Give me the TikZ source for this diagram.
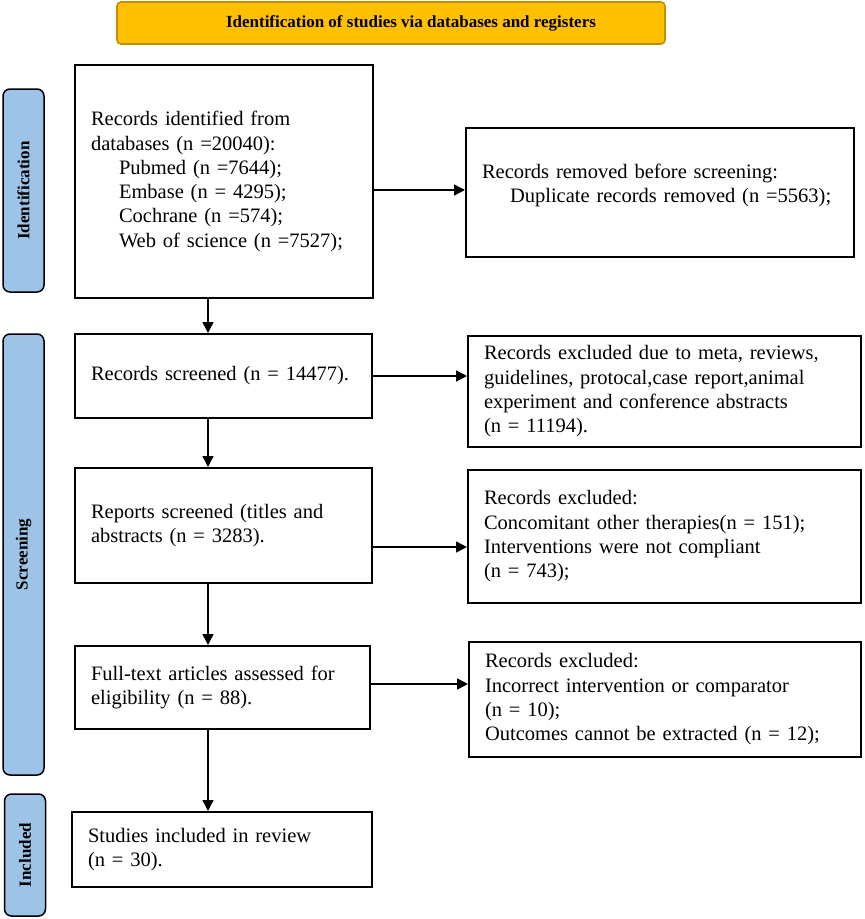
\documentclass[tikz,border=0pt]{standalone}
\usepackage{fontspec}
\setmainfont{Liberation Serif}
\usetikzlibrary{arrows.meta}
\definecolor{headfill}{HTML}{FFC000}
\definecolor{headline}{HTML}{BF9000}
\definecolor{phasefill}{HTML}{9DC3E6}
\tikzset{
  box/.style={draw, line width=2pt, align=left, inner xsep=16pt, inner ysep=0pt,
    font=\fontsize{20.5}{24.3}\selectfont},
  phase/.style={draw, line width=1.5pt, fill=phasefill, rounded corners=7pt, minimum width=41pt,
    inner sep=0pt, font=\fontsize{17}{20}\selectfont\bfseries},
  arr/.style={line width=1.5pt, -{Triangle[length=11pt,width=11pt]}}
}
\begin{document}
\begin{tikzpicture}[x=1pt,y=-1pt]
			%%%%% START %%%%%
			\useasboundingbox (0,0) rectangle (865,919);
			
			\node[draw=headline, line width=1.6pt, fill=headfill, rounded corners=4pt, minimum width=548pt, minimum height=42pt,
			  font=\fontsize{17}{20}\selectfont\bfseries] (head) at (391,23) {\hspace*{40pt}Identification of studies via databases and registers};
			
			\node[phase, minimum height=203pt] (pIdent) at (23.5,190.5) {\rotatebox{90}{Identification}};
			\node[phase, minimum height=441pt] (pScreen) at (23.5,554.5) {\rotatebox{90}{Screening}};
			\node[phase, minimum height=122pt] (pIncl) at (25,855) {\rotatebox{90}{Included}};
			
			\node[box, text width=266pt, minimum height=233pt] (ident) at (224,181.5) {Records identified from\\
			  databases (n =20040):\\
			  \hspace*{28pt}Pubmed (n =7644);\\
			  \hspace*{28pt}Embase (n = 4295);\\
			  \hspace*{28pt}Cochrane (n =574);\\
			  \hspace*{28pt}Web of science (n =7527);};
			\node[box, text width=356pt, minimum height=129pt] (dup) at (660,192.5) {Records removed before screening:\\
			  \hspace*{28pt}Duplicate records removed (n =5563);\\[-6pt]\mbox{}};
			
			\node[box, text width=265pt, minimum height=84pt] (scr) at (223.5,376) {Records screened (n = 14477).};
			\node[box, text width=361pt, minimum height=111pt] (exMeta) at (664.5,391.5) {Records excluded due to meta, reviews,\\
			  guidelines, protocal,case report,animal\\
			  experiment and conference abstracts\\
			  (n = 11194).};
			
			\node[box, text width=265pt, minimum height=115pt] (rep) at (223.5,525.5) {Reports screened (titles and\\
			  abstracts (n = 3283).};
			\node[box, text width=361pt, minimum height=133pt] (exTher) at (664.5,536.5) {Records excluded:\\
			  Concomitant other therapies(n = 151);\\
			  Interventions were not compliant\\
			  (n = 743);};
			
			\node[box, text width=263pt, minimum height=83pt] (full) at (222.5,687.5) {Full-text articles assessed for\\
			  eligibility (n = 88).};
			\node[box, text width=360pt, minimum height=115pt] (exInt) at (665,699.5) {Records excluded:\\
			  Incorrect intervention or comparator\\
			  (n = 10);\\
			  Outcomes cannot be extracted (n = 12);};
			
			\node[box, text width=268pt, minimum height=75pt] (incl) at (222,849.5) {Studies included in review\\
			  (n = 30).};
			
			%% connectors
			\coordinate (ax) at (208,0);
			\draw[arr] (ident.east |- 0,190) -- (dup.west |- 0,190);
			\draw[arr] (ident.south -| ax) -- (scr.north -| ax);
			\draw[arr] (scr.east) -- (scr.east -| exMeta.west);
			\draw[arr] (scr.south -| ax) -- (rep.north -| ax);
			\draw[arr] (rep.east |- 0,547) -- (exTher.west |- 0,547);
			\draw[arr] (rep.south -| ax) -- (full.north -| ax);
			\draw[arr] (full.east |- 0,684) -- (exInt.west |- 0,684);
			\draw[arr] (full.south -| ax) -- (incl.north -| ax);
			
			%%%%% END %%%%%
\end{tikzpicture}
\end{document}
